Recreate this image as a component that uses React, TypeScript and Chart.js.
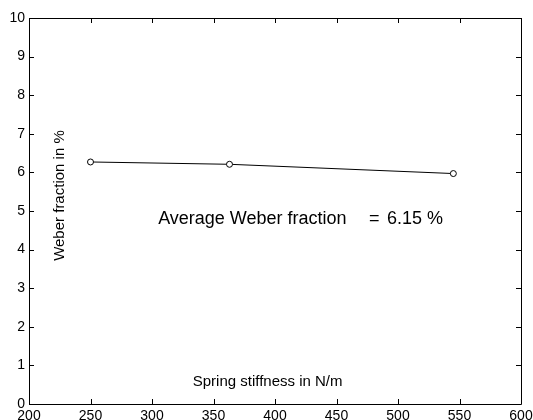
import React, { useEffect, useRef } from "react";
import { Chart, registerables } from "chart.js";

Chart.register(...registerables);

const stiffness = [250, 363, 545];
const weberFraction = [6.27, 6.21, 5.97];
const xTicks = [200, 250, 300, 350, 400, 450, 500, 550, 600];
const yTicks = [0, 1, 2, 3, 4, 5, 6, 7, 8, 9, 10];
const annotationParts = ["Average Weber fraction", "=", "6.15 %"];
const xLabel = "Spring stiffness in N/m";
const yLabel = "Weber fraction in %";

const FONT = "'Liberation Sans', Arial, Helvetica, sans-serif";

const framePlugin = {
  id: "frame",
  afterDraw(chart: any) {
    const { ctx, chartArea, scales } = chart;
    const xs = scales.x;
    const ys = scales.y;
    const { left, right, top, bottom } = chartArea;
    ctx.save();
    ctx.strokeStyle = "#000";
    ctx.lineWidth = 1;
    ctx.beginPath();
    ctx.rect(Math.round(left) + 0.5, Math.round(top) + 0.5, Math.round(right - left), Math.round(bottom - top));
    ctx.stroke();
    const tl = 5;
    ctx.beginPath();
    xTicks.forEach((v) => {
      const px = Math.round(xs.getPixelForValue(v)) + 0.5;
      ctx.moveTo(px, bottom);
      ctx.lineTo(px, bottom - tl);
      ctx.moveTo(px, top);
      ctx.lineTo(px, top + tl);
    });
    yTicks.forEach((v) => {
      const py = Math.round(ys.getPixelForValue(v)) + 0.5;
      ctx.moveTo(left, py);
      ctx.lineTo(left + tl, py);
      ctx.moveTo(right, py);
      ctx.lineTo(right - tl, py);
    });
    ctx.stroke();

    ctx.fillStyle = "#000";
    ctx.font = `18px ${FONT}`;
    ctx.textAlign = "left";
    ctx.textBaseline = "middle";
    const ay = ys.getPixelForValue(4.78);
    ctx.fillText(annotationParts[0], xs.getPixelForValue(305), ay);
    ctx.fillText(annotationParts[1], xs.getPixelForValue(476.5), ay);
    ctx.fillText(annotationParts[2], xs.getPixelForValue(491), ay);

    ctx.font = `15px ${FONT}`;
    ctx.textAlign = "center";
    ctx.fillText(xLabel, xs.getPixelForValue(394), ys.getPixelForValue(0.57));
    ctx.translate(xs.getPixelForValue(225), ys.getPixelForValue(5.4));
    ctx.rotate(-Math.PI / 2);
    ctx.fillText(yLabel, 0, 0);
    ctx.restore();
  },
};

export default function App() {
  const ref = useRef<HTMLCanvasElement | null>(null);
  useEffect(() => {
    if (!ref.current) return;
    const chart = new Chart(ref.current, {
      type: "line",
      data: {
        datasets: [
          {
            data: stiffness.map((x, i) => ({ x, y: weberFraction[i] })),
            borderColor: "#000",
            borderWidth: 1,
            pointRadius: 3,
            pointBorderWidth: 1,
            pointBorderColor: "#000",
            pointBackgroundColor: "#fff",
            tension: 0,
          },
        ],
      },
      options: {
        animation: false,
        responsive: false,
        maintainAspectRatio: false,
        layout: { padding: { top: 18, right: 12, left: 0, bottom: 0 } },
        plugins: { legend: { display: false }, tooltip: { enabled: false } },
        scales: {
          x: {
            type: "linear",
            min: 200,
            max: 600,
            afterFit: (s: any) => {
              s.height = 16;
              s.paddingLeft = 0;
              s.paddingRight = 0;
            },
            afterBuildTicks: (s: any) => {
              s.ticks = xTicks.map((v) => ({ value: v }));
            },
            border: { display: false },
            grid: { display: false, drawTicks: false },
            ticks: {
              color: "#000",
              padding: 4,
              maxRotation: 0,
              autoSkip: false,
              font: { family: FONT, size: 14 },
            },
          },
          y: {
            type: "linear",
            min: 0,
            max: 10,
            afterFit: (s: any) => {
              s.width = 29;
              s.paddingTop = 0;
              s.paddingBottom = 0;
            },
            afterBuildTicks: (s: any) => {
              s.ticks = yTicks.map((v) => ({ value: v }));
            },
            border: { display: false },
            grid: { display: false, drawTicks: false },
            ticks: {
              color: "#000",
              padding: 4,
              autoSkip: false,
              font: { family: FONT, size: 14 },
            },
          },
        },
      },
      plugins: [framePlugin],
    } as any);
    return () => chart.destroy();
  }, []);
  return (
    <div style={{ position: "fixed", left: 0, top: 0, width: 533, height: 420, background: "#fff" }}>
      <canvas ref={ref} width={533} height={420} style={{ width: 533, height: 420 }} />
    </div>
  );
}
